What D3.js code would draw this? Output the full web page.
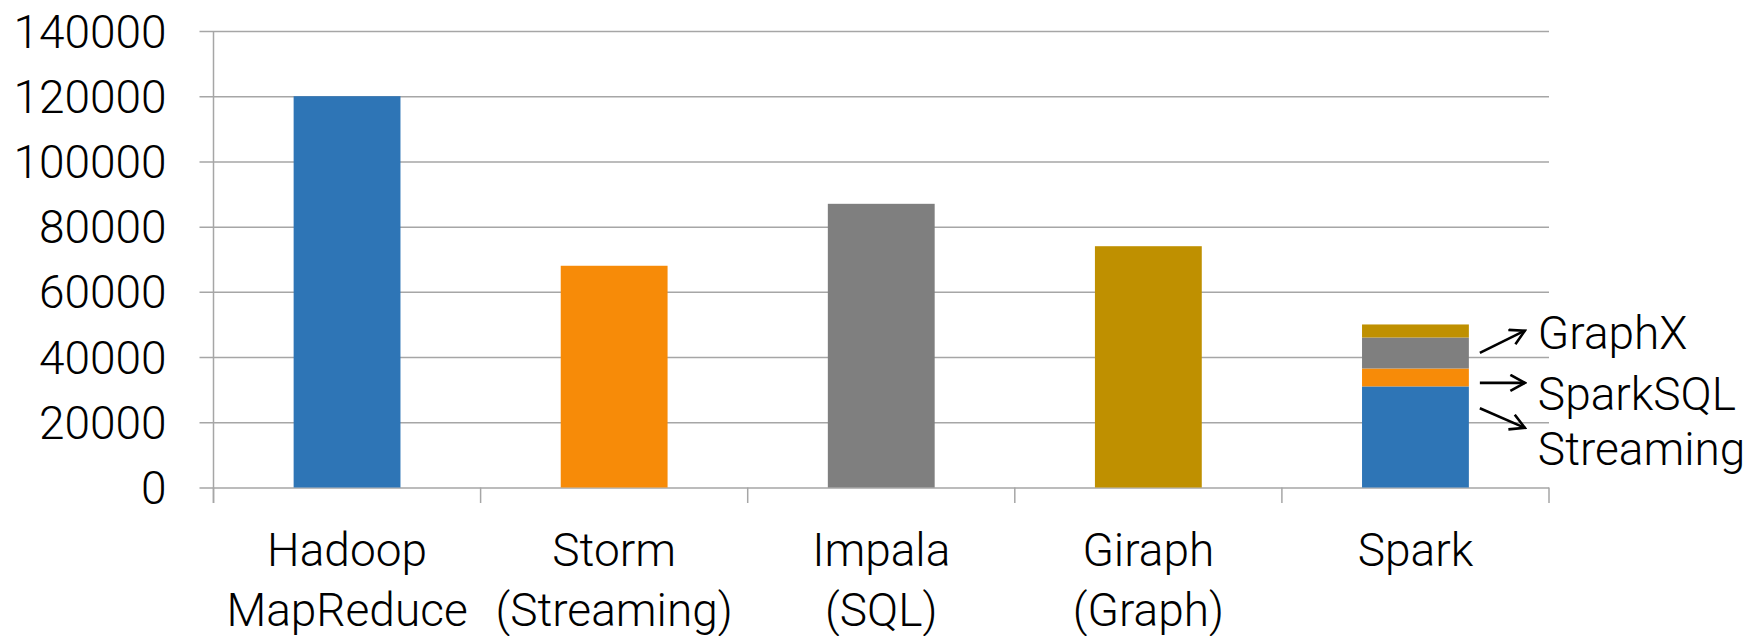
<!DOCTYPE html>
<html>
<head>
<meta charset="utf-8">
<script src="https://cdn.jsdelivr.net/npm/d3@7"></script>
<style>
  html, body { margin: 0; padding: 0; background: #ffffff; }
  svg { display: block; }
  text { font-family: "Roboto", "Liberation Sans", sans-serif; font-weight: 300; fill: #000; }
</style>
</head>
<body>
<svg id="chart" width="1753" height="636"></svg>
<script>
// Lines of code per system
const categories = ["Hadoop MapReduce", "Storm (Streaming)", "Impala (SQL)", "Giraph (Graph)", "Spark"];
const categoryLines = [["Hadoop", "MapReduce"], ["Storm", "(Streaming)"], ["Impala", "(SQL)"], ["Giraph", "(Graph)"], ["Spark"]];
const systemValues = [120000, 68000, 87000, 74000];
const systemColors = ["#2E75B6", "#F78B08", "#7F7F7F", "#BF9000"];

// Spark broken down into its components
const sparkParts = ["Core", "Streaming", "SparkSQL", "GraphX"];
const sparkValues = [31000, 5500, 9500, 4000];
const sparkColors = ["#2E75B6", "#F78B08", "#7F7F7F", "#BF9000"];

const yTicks = [0, 20000, 40000, 60000, 80000, 100000, 120000, 140000];

const svg = d3.select("#chart");
const plotLeft = 213.5, plotRight = 1549, plotTop = 31, plotBottom = 487.5;

const x = d3.scaleBand()
  .domain(categories)
  .range([plotLeft, plotRight])
  .paddingInner(0.6)
  .paddingOuter(0.3);

const y = d3.scaleLinear().domain([0, 140000]).range([plotBottom, plotTop]);

const gridColor = "#a6a6a6";

// Horizontal gridlines with outward ticks
const yAxis = svg.append("g")
  .attr("transform", `translate(${plotLeft},0)`)
  .call(d3.axisLeft(y).tickValues(yTicks).tickSize(14).tickFormat(d3.format("d")).tickPadding(33));
yAxis.select(".domain").remove();
yAxis.selectAll(".tick line").attr("stroke", gridColor).attr("stroke-width", 1.5)
  .attr("x2", plotRight - plotLeft).attr("x1", -14);
yAxis.selectAll(".tick text")
  .attr("font-size", 46)
  .attr("dy", "0.35em")
  .style("font-family", "Roboto, 'Liberation Sans', sans-serif")
  .style("font-weight", 300);

// Vertical axis line
svg.append("line")
  .attr("x1", plotLeft).attr("x2", plotLeft)
  .attr("y1", plotTop).attr("y2", plotBottom + 15.5)
  .attr("stroke", gridColor).attr("stroke-width", 1.5);

// Category separator ticks
const step = x.step();
const boundaries = d3.range(categories.length + 1).map(i => plotLeft + i * step);
svg.append("g").selectAll("line")
  .data(boundaries)
  .join("line")
  .attr("x1", d => d).attr("x2", d => d)
  .attr("y1", plotBottom).attr("y2", plotBottom + 15.5)
  .attr("stroke", gridColor).attr("stroke-width", 1.5);

// Single-system bars
svg.append("g").selectAll("rect")
  .data(systemValues)
  .join("rect")
  .attr("x", (d, i) => x(categories[i]))
  .attr("width", x.bandwidth())
  .attr("y", d => y(d))
  .attr("height", d => y(0) - y(d))
  .attr("fill", (d, i) => systemColors[i]);

// Stacked Spark bar
const sparkRow = {};
sparkParts.forEach((k, i) => sparkRow[k] = sparkValues[i]);
const stacked = d3.stack().keys(sparkParts)([sparkRow]);
svg.append("g").selectAll("rect")
  .data(stacked)
  .join("rect")
  .attr("x", x("Spark"))
  .attr("width", x.bandwidth())
  .attr("y", d => y(d[0][1]))
  .attr("height", d => y(d[0][0]) - y(d[0][1]))
  .attr("fill", (d, i) => sparkColors[i]);

// Category labels
const catLabels = svg.append("g");
categoryLines.forEach((lines, i) => {
  const cx = x(categories[i]) + x.bandwidth() / 2;
  lines.forEach((t, j) => {
    catLabels.append("text")
      .attr("x", cx)
      .attr("y", 566 + j * 60)
      .attr("text-anchor", "middle")
      .attr("font-size", 46)
      .text(t);
  });
});

// Component annotations with arrows
const defs = svg.append("defs");
defs.append("marker")
  .attr("id", "arrowhead")
  .attr("viewBox", "0 0 18 18")
  .attr("refX", 16).attr("refY", 9)
  .attr("markerWidth", 18).attr("markerHeight", 18)
  .attr("markerUnits", "userSpaceOnUse")
  .attr("orient", "auto")
  .append("path")
  .attr("d", "M1.5,1 L16,9 L1.5,17")
  .attr("fill", "none")
  .attr("stroke", "#000")
  .attr("stroke-width", 2.6);

const barRight = x("Spark") + x.bandwidth();
const notes = [
  { label: "GraphX",    from: 41300, to: 48100, textY: 349 },
  { label: "SparkSQL",  from: 32100, to: 32100, textY: 410 },
  { label: "Streaming", from: 24300, to: 18300, textY: 465 }
];
const noteG = svg.append("g");
notes.forEach(n => {
  noteG.append("line")
    .attr("x1", barRight + 11).attr("y1", y(n.from))
    .attr("x2", barRight + 56).attr("y2", y(n.to))
    .attr("stroke", "#000").attr("stroke-width", 2.6)
    .attr("marker-end", "url(#arrowhead)");
  noteG.append("text")
    .attr("x", barRight + 69)
    .attr("y", n.textY)
    .attr("font-size", 46)
    .text(n.label);
});
</script>
</body>
</html>
